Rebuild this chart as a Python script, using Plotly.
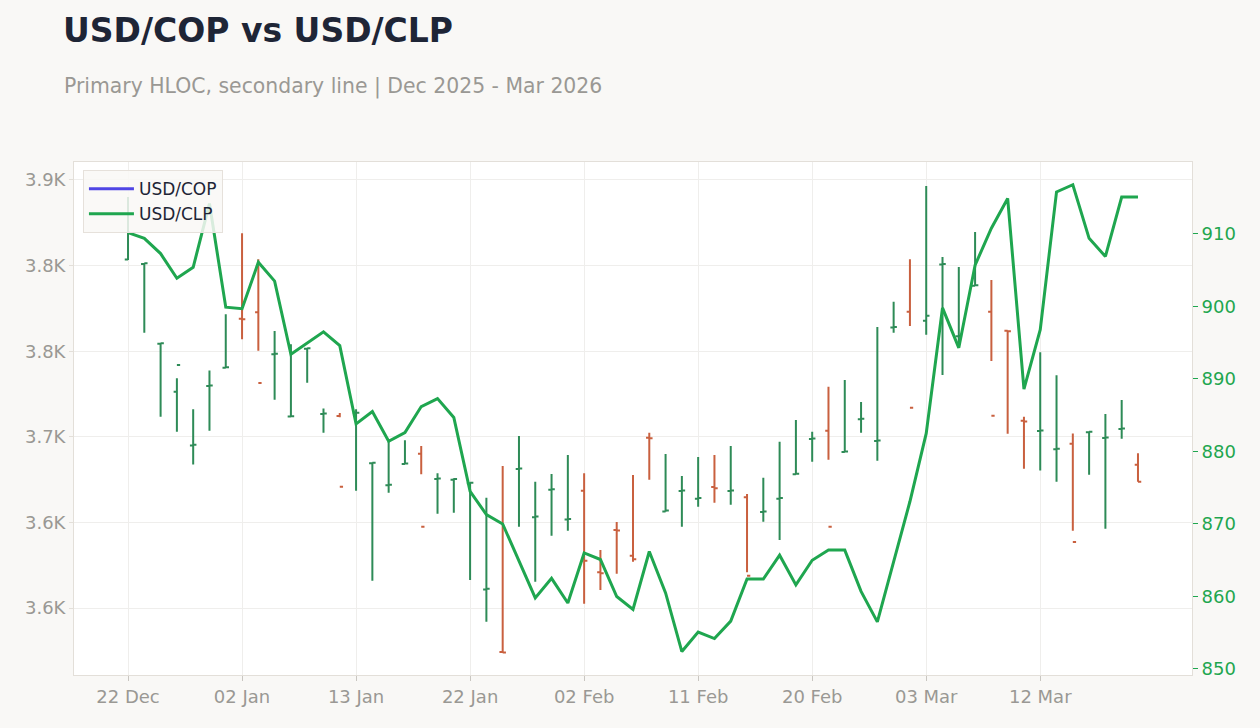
import plotly.graph_objects as go

dates = [
    "2025-12-22", "2025-12-23", "2025-12-24", "2025-12-26", "2025-12-29", "2025-12-30", "2025-12-31",
    "2026-01-02", "2026-01-05", "2026-01-06", "2026-01-07", "2026-01-08", "2026-01-09", "2026-01-12",
    "2026-01-13", "2026-01-14", "2026-01-15", "2026-01-16", "2026-01-19", "2026-01-20", "2026-01-21",
    "2026-01-22", "2026-01-23", "2026-01-26", "2026-01-27", "2026-01-28", "2026-01-29", "2026-01-30",
    "2026-02-02", "2026-02-03", "2026-02-04", "2026-02-05", "2026-02-06", "2026-02-09", "2026-02-10",
    "2026-02-11", "2026-02-12", "2026-02-13", "2026-02-16", "2026-02-17", "2026-02-18", "2026-02-19",
    "2026-02-20", "2026-02-23", "2026-02-24", "2026-02-25", "2026-02-26", "2026-02-27", "2026-03-02",
    "2026-03-03", "2026-03-04", "2026-03-05", "2026-03-06", "2026-03-09", "2026-03-10", "2026-03-11",
    "2026-03-12", "2026-03-13", "2026-03-16", "2026-03-17", "2026-03-18", "2026-03-19", "2026-03-20",
]

cop_open = [
    3853.5, 3851.0, 3804.4, 3776.3, 3745.0, 3779.7, 3790.4, 3819.0, 3822.7, 3798.2,
    3761.8, 3801.4, 3763.3, 3762.2, 3763.9, 3734.6, 3721.7, 3734.2, 3740.1, 3725.3,
    3725.0, 3722.9, 3660.9, 3624.4, 3731.2, 3703.1, 3719.1, 3701.7, 3718.5, 3670.9,
    3695.6, 3680.6, 3749.5, 3706.4, 3718.3, 3713.9, 3720.7, 3718.3, 3714.7, 3706.1,
    3713.9, 3728.2, 3748.7, 3753.6, 3741.1, 3760.2, 3747.5, 3813.9, 3823.1, 3817.8,
    3850.7, 3808.7, 3838.2, 3823.1, 3812.0, 3759.4, 3753.4, 3742.7, 3746.0, 3752.7,
    3749.3, 3754.5, 3733.7,
]
cop_high = [
    3890.1, 3851.3, 3804.6, 3784.2, 3766.1, 3788.8, 3821.6, 3868.9, 3853.7, 3811.8,
    3804.0, 3801.7, 3766.6, 3763.9, 3766.1, 3734.9, 3747.1, 3748.0, 3744.6, 3728.7,
    3725.8, 3723.2, 3714.4, 3733.0, 3750.5, 3723.8, 3728.3, 3739.4, 3728.7, 3683.9,
    3700.2, 3727.7, 3752.4, 3740.0, 3727.1, 3738.2, 3739.4, 3744.6, 3716.6, 3726.1,
    3747.1, 3759.8, 3753.0, 3779.3, 3783.2, 3770.3, 3814.1, 3828.9, 3853.7, 3896.5,
    3855.0, 3849.2, 3869.6, 3841.6, 3812.0, 3761.7, 3799.4, 3785.9, 3752.0, 3753.0,
    3763.3, 3771.5, 3740.4,
]
cop_low = [
    3853.3, 3810.8, 3761.7, 3753.0, 3733.9, 3753.6, 3790.4, 3807.0, 3800.3, 3771.7,
    3761.6, 3781.6, 3752.4, 3761.4, 3718.5, 3666.0, 3717.4, 3734.1, 3728.1, 3705.1,
    3705.7, 3666.4, 3642.0, 3624.1, 3697.5, 3665.4, 3692.2, 3695.2, 3652.5, 3660.5,
    3670.0, 3677.1, 3724.9, 3706.3, 3697.5, 3709.2, 3711.5, 3710.3, 3670.9, 3700.4,
    3689.7, 3728.1, 3735.5, 3736.6, 3741.0, 3752.4, 3736.0, 3810.8, 3814.7, 3809.6,
    3786.1, 3801.9, 3838.1, 3794.3, 3751.8, 3731.4, 3730.4, 3723.8, 3695.2, 3727.9,
    3696.3, 3748.9, 3723.8,
]
cop_close = [
    3869.0, 3851.3, 3804.6, 3791.9, 3745.4, 3780.0, 3790.6, 3818.6, 3781.4, 3798.5,
    3762.0, 3801.7, 3763.6, 3720.9, 3764.1, 3734.9, 3722.0, 3734.4, 3697.5, 3725.6,
    3725.3, 3723.2, 3661.2, 3624.1, 3731.5, 3703.4, 3719.4, 3702.0, 3677.6, 3670.3,
    3695.3, 3678.5, 3749.1, 3706.9, 3718.6, 3714.2, 3720.0, 3718.6, 3668.9, 3706.4,
    3714.2, 3728.5, 3749.0, 3697.5, 3741.4, 3760.5, 3747.8, 3814.2, 3767.0, 3820.7,
    3851.0, 3809.0, 3838.5, 3762.3, 3811.7, 3759.0, 3753.7, 3743.0, 3688.6, 3753.0,
    3749.6, 3754.8, 3723.8,
]
clp_close = [
    910.2, 909.4, 907.3, 903.9, 905.4, 914.2, 899.9, 899.7, 906.1, 903.5,
    893.4, 894.9, 896.5, 894.6, 883.8, 885.5, 881.4, 882.6, 886.2, 887.3,
    884.7, 874.5, 871.3, 870.0, 864.8, 859.8, 862.5, 859.1, 866.0, 865.1,
    860.0, 858.2, 866.2, 860.5, 852.4, 855.1, 854.2, 856.6, 862.4, 862.4,
    865.7, 861.6, 865.0, 866.4, 866.4, 860.7, 856.5, 865.0, 873.1, 882.5,
    899.8, 894.3, 905.7, 910.8, 914.9, 888.6, 896.8, 915.8, 916.8, 909.4,
    906.9, 915.1, 915.1,
]

x_tick_dates = ["2025-12-22", "2026-01-02", "2026-01-13", "2026-01-22", "2026-02-02",
                "2026-02-11", "2026-02-20", "2026-03-03", "2026-03-12"]
x_tick_text = ["22 Dec", "02 Jan", "13 Jan", "22 Jan", "02 Feb", "11 Feb", "20 Feb", "03 Mar", "12 Mar"]
y_tick_vals = [3650, 3700, 3750, 3800, 3850, 3900]
y_tick_text = ["3.6K", "3.6K", "3.7K", "3.8K", "3.8K", "3.9K"]
y2_tick_vals = [850, 860, 870, 880, 890, 900, 910]

INC = "#2E8B57"
DEC = "#C9603F"
CLP = "#1FA64F"
GRAY = "#9A9894"

fig = go.Figure()
fig.add_trace(go.Ohlc(
    x=dates, open=cop_open, high=cop_high, low=cop_low, close=cop_close,
    name="USD/COP", showlegend=False, tickwidth=0.2,
    increasing=dict(line=dict(color=INC, width=2)),
    decreasing=dict(line=dict(color=DEC, width=2)),
    hoverinfo="skip",
))
fig.add_trace(go.Scatter(
    x=[None], y=[None], mode="lines", name="USD/COP",
    line=dict(color="#5046E5", width=3),
))
fig.add_trace(go.Scatter(
    x=dates, y=clp_close, mode="lines", name="USD/CLP", yaxis="y2",
    line=dict(color=CLP, width=3),
))

fig.update_layout(
    width=1260, height=728,
    paper_bgcolor="#F9F8F6", plot_bgcolor="#FFFFFF",
    margin=dict(l=74, r=68, t=162, b=53),
    font=dict(family="DejaVu Sans", size=18, color=GRAY),
    title=dict(
        text="<b>USD/COP vs USD/CLP</b>",
        font=dict(family="DejaVu Sans", size=33, color="#1E2536"),
        x=63 / 1260, xanchor="left", xref="container",
        y=1 - 30 / 728, yanchor="middle", yref="container",
    ),
    annotations=[dict(
        text="Primary HLOC, secondary line | Dec 2025 - Mar 2026",
        x=(61.5 - 74) / 1118, xref="paper", xanchor="left",
        y=(675 - 86) / 513, yref="paper", yanchor="middle",
        showarrow=False, font=dict(family="DejaVu Sans", size=20.4, color=GRAY),
    )],
    showlegend=True,
    legend=dict(
        x=0.008, y=0.984, xanchor="left", yanchor="top",
        bgcolor="rgba(249,248,246,0.85)", bordercolor="#E6E1DB", borderwidth=1,
        font=dict(size=17, color="#1E2536"), itemwidth=45,
    ),
    xaxis=dict(
        type="category", range=[-3.316, 65.316],
        tickmode="array", tickvals=x_tick_dates, ticktext=x_tick_text,
        showgrid=True, gridcolor="#EFEEEC", gridwidth=1,
        showline=True, linecolor="#E3DFD9", linewidth=1, mirror=True,
        ticks="outside", ticklen=5, tickcolor="#C9C6C1",
        tickfont=dict(size=18, color=GRAY),
        rangeslider=dict(visible=False),
    ),
    yaxis=dict(
        range=[3610.9, 3910.5],
        tickmode="array", tickvals=y_tick_vals, ticktext=y_tick_text,
        showgrid=True, gridcolor="#EFEEEC", gridwidth=1,
        showline=True, linecolor="#E3DFD9", linewidth=1, mirror=True,
        ticks="outside", ticklen=4, tickcolor="#E3DFD9",
        tickfont=dict(size=18, color=GRAY), zeroline=False,
    ),
    yaxis2=dict(
        overlaying="y", side="right", range=[849.17, 919.93],
        tickmode="array", tickvals=y2_tick_vals,
        showgrid=False, zeroline=False,
        ticks="outside", ticklen=5, tickcolor=CLP,
        tickfont=dict(size=18, color=CLP),
    ),
)

fig.write_html("out.html")
